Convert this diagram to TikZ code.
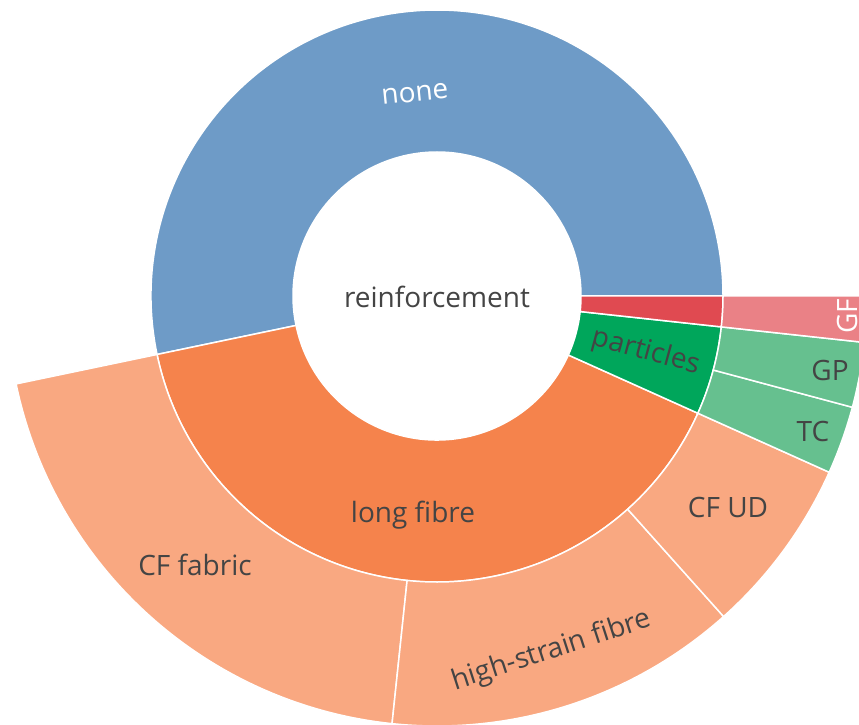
\documentclass[tikz,border=0pt]{standalone}
\usepackage{fontspec}
\setmainfont{Open Sans}
\definecolor{cblue}{HTML}{6E9BC7}
\definecolor{corange}{HTML}{F5834C}
\definecolor{clorange}{HTML}{F9A881}
\definecolor{cgreen}{HTML}{00A65B}
\definecolor{clgreen}{HTML}{66C08F}
\definecolor{cred}{HTML}{E04A51}
\definecolor{clred}{HTML}{EA8186}
\definecolor{ctext}{HTML}{444444}
\newcommand\sect[5]{\filldraw[sector,fill=#5] (#1:#3) arc[start angle=#1, end angle=#2, radius=#3] -- (#2:#4) arc[start angle=#2, end angle=#1, radius=#4] -- cycle;}
\tikzset{
  sector/.style={draw=white, line width=1.5pt, line join=round},
  lbl/.style={text=ctext, font=\fontsize{28}{32}\selectfont, inner sep=0pt},
  wlbl/.style={lbl, text=white}
}
\begin{document}
\begin{tikzpicture}[x=1pt,y=1pt]
\useasboundingbox (0,0) rectangle (859,724);
\clip (0,0) rectangle (859,724);
\begin{scope}[shift={(437,428)}]
  % inner ring
  \sect{0}{191.8}{144pt}{286pt}{cblue}
  \sect{191.8}{335.8}{144pt}{286pt}{corange}
  \sect{335.8}{353.8}{144pt}{286pt}{cgreen}
  \sect{353.8}{360}{144pt}{286pt}{cred}
  % outer ring
  \sect{191.8}{264}{286pt}{430pt}{clorange}
  \sect{264}{311.8}{286pt}{430pt}{clorange}
  \sect{311.8}{335.8}{286pt}{430pt}{clorange}
  \sect{335.8}{345}{286pt}{430pt}{clgreen}
  \sect{345}{353.8}{286pt}{430pt}{clgreen}
  \sect{353.8}{360}{286pt}{430pt}{clred}
\end{scope}
\node[wlbl, rotate=5.9] (none) at (415,630) {none};
\node[lbl, anchor=base] (root) at (437,416) {reinforcement};
\node[lbl, anchor=base] (long) at (413,202) {long fibre};
\node[lbl, rotate=-15.2] (part) at (646,372) {particles};
\node[wlbl, rotate=90] (gf) at (847,408) {GF};
\node[lbl, anchor=base] (gp) at (830,344) {GP};
\node[lbl, anchor=base] (tc) at (813,283) {TC};
\node[lbl, anchor=base] (cfud) at (728,207) {CF UD};
\node[lbl, anchor=base] (cffab) at (195,149) {CF fabric};
\node[lbl, anchor=base, rotate=18] (hs) at (554,66) {high-strain fibre};
\end{tikzpicture}
\end{document}
